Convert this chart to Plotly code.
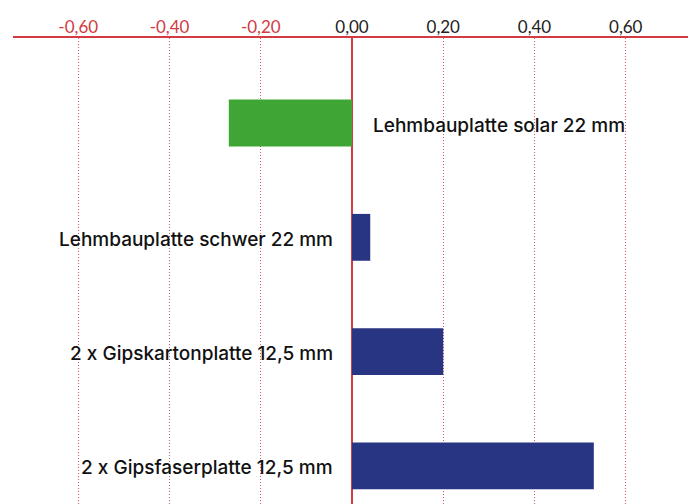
import plotly.graph_objects as go

categories = ["Lehmbauplatte solar 22 mm", "Lehmbauplatte schwer 22 mm",
              "2 x Gipskartonplatte 12,5 mm", "2 x Gipsfaserplatte 12,5 mm"]
values = [-0.27, 0.04, 0.20, 0.53]
bar_colors = ["#3fa535", "#283583", "#283583", "#283583"]
tick_vals = [-0.6, -0.4, -0.2, 0.0, 0.2, 0.4, 0.6]
tick_labels = ["-0,60", "-0,40", "-0,20", "0,00", "0,20", "0,40", "0,60"]

RED = "#d23b42"
ticktext = [f"<span style='color:{RED}'>{t}</span>" if v < 0 else t
            for v, t in zip(tick_vals, tick_labels)]

fig = go.Figure(go.Bar(
    y=categories, x=values, orientation="h",
    marker=dict(color=bar_colors, line=dict(width=0)),
    width=0.41, hoverinfo="skip"
))

for c, v in zip(categories, values):
    fig.add_annotation(
        x=0, y=c, xref="x", yref="y", text=c, showarrow=False,
        xanchor="left" if v < 0 else "right",
        xshift=19 if v < 0 else -17, yshift=-2,
        font=dict(family="Inter", size=19, color="#111111", weight=500)
    )

fig.update_layout(
    width=696, height=504,
    margin=dict(l=5, r=13, t=30, b=8, autoexpand=False),
    paper_bgcolor="white", plot_bgcolor="white",
    showlegend=False,
    xaxis=dict(
        side="top", range=[-0.743, 0.743], automargin=False,
        tickvals=tick_vals, ticktext=ticktext,
        tickfont=dict(family="Lato", size=17, color="#222222"),
        ticks="", ticklabelstandoff=-4,
        showline=True, linecolor=RED, linewidth=1.5,
        showgrid=True, gridcolor="#d9565c", griddash="1px,2px", gridwidth=1,
        zeroline=True, zerolinecolor=RED, zerolinewidth=1.5,
        fixedrange=True,
    ),
    yaxis=dict(
        type="category", categoryorder="array", categoryarray=categories,
        range=[3.333, -0.744], showticklabels=False, showgrid=False,
        zeroline=False, showline=False, ticks="", automargin=False,
    ),
)

fig.write_html("out.html")
